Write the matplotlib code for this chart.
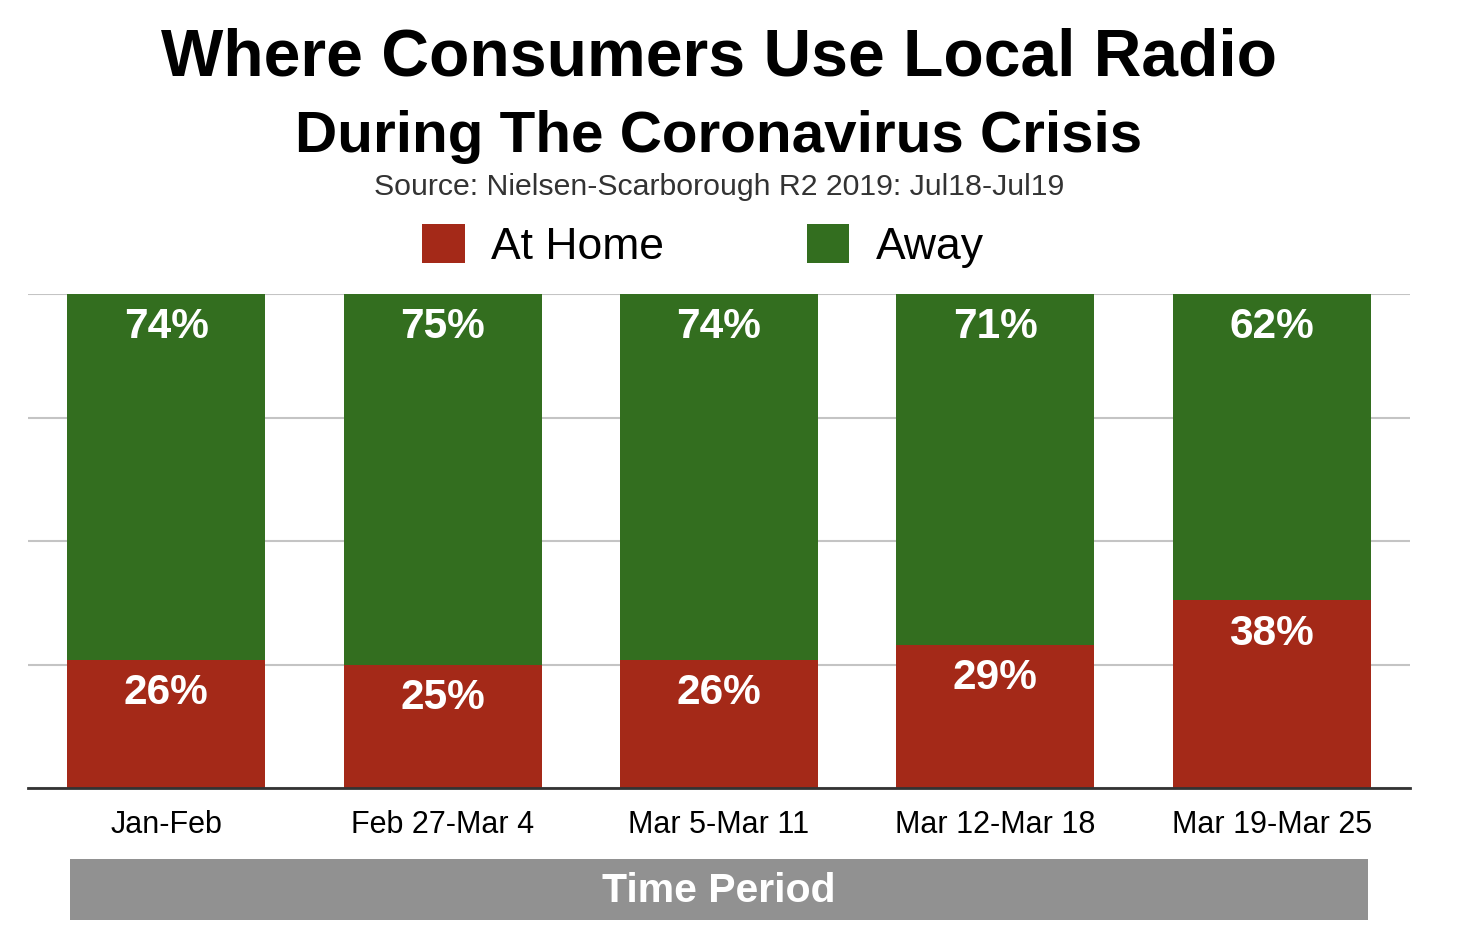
import matplotlib
matplotlib.use("Agg")
import matplotlib.pyplot as plt
from matplotlib.patches import Rectangle

categories = ["Jan-Feb", "Feb 27-Mar 4", "Mar 5-Mar 11", "Mar 12-Mar 18", "Mar 19-Mar 25"]
at_home = [26, 25, 26, 29, 38]
away = [74, 75, 74, 71, 62]
series_names = ["At Home", "Away"]
colors = ["#A42918", "#336E1F"]

plt.rcParams['font.family'] = ['Liberation Sans', 'DejaVu Sans']

fig = plt.figure(figsize=(14.66, 9.48), dpi=100)
W, H = 1466, 948
ax = fig.add_axes([28 / W, 1 - 788 / H, (1410 - 28) / W, (788 - 294) / H])

x = list(range(len(categories)))
bw = 0.716
b1 = ax.bar(x, at_home, width=bw, color=colors[0], label=series_names[0], zorder=2)
b2 = ax.bar(x, away, width=bw, bottom=at_home, color=colors[1], label=series_names[1], zorder=2)

for i in x:
    ax.annotate(f"{at_home[i]}%", (i, at_home[i]), xytext=(0, -24), textcoords="offset points",
                ha="center", va="center", color="white", fontsize=30.5, fontweight="bold", zorder=3)
    ax.annotate(f"{away[i]}%", (i, at_home[i] + away[i]), xytext=(0, -24), textcoords="offset points",
                ha="center", va="center", color="white", fontsize=30.5, fontweight="bold", zorder=3)

ax.set_xlim(-0.5, len(categories) - 0.5)
ax.set_ylim(0, 100)
ax.set_yticks([0, 25, 50, 75, 100])
ax.set_yticklabels([])
ax.yaxis.grid(True, color="#C4C4C4", linewidth=1.5, zorder=0)
ax.set_axisbelow(True)
ax.tick_params(axis="y", length=0)
ax.tick_params(axis="x", length=0, pad=16, labelsize=22)
ax.set_xticks(x)
ax.set_xticklabels(categories)
for s in ["top", "left", "right"]:
    ax.spines[s].set_visible(False)
ax.spines["bottom"].set_color("#333333")
ax.spines["bottom"].set_linewidth(2)

# Titles
fig.text(719 / W, 1 - 59 / H, "Where Consumers Use Local Radio", ha="center", va="center",
         fontsize=47.5, fontweight="bold", color="black")
fig.text(719 / W, 1 - 137 / H, "During The Coronavirus Crisis", ha="center", va="center",
         fontsize=42, fontweight="bold", color="black")
fig.text(719 / W, 1 - 187 / H, "Source: Nielsen-Scarborough R2 2019: Jul18-Jul19", ha="center", va="center",
         fontsize=21.8, color="#333333")

# Legend
leg = fig.legend(handles=[b1, b2], labels=series_names, loc="center", bbox_to_anchor=(703 / W, 1 - 246 / H),
                 ncol=2, frameon=False, fontsize=32, handlelength=0.95, handleheight=0.95,
                 handletextpad=0.6, columnspacing=3.2)

# Axis title box
fig.patches.append(Rectangle((70 / W, 1 - 920 / H), (1368 - 70) / W, (920 - 859) / H,
                             transform=fig.transFigure, facecolor="#919191", edgecolor="none"))
fig.text(719 / W, 1 - 891 / H, "Time Period", ha="center", va="center", fontsize=29.5,
         fontweight="bold", color="white")

fig.savefig("out.png", dpi=100)
